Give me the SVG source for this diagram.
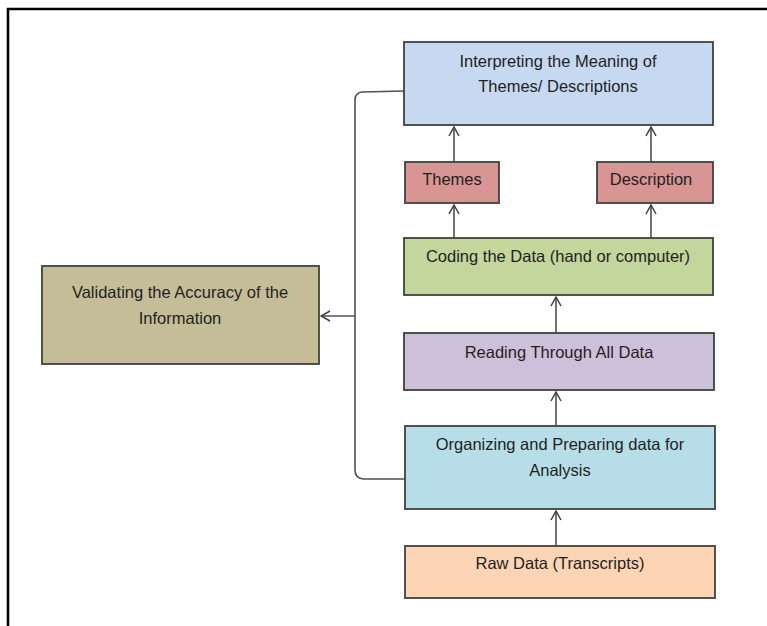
<svg xmlns="http://www.w3.org/2000/svg" width="767" height="626" viewBox="0 0 767 626">
<defs>
<marker id="arr" viewBox="0 0 12 12" refX="11" refY="6" markerWidth="12" markerHeight="12" markerUnits="userSpaceOnUse" orient="auto">
<path d="M2,1 L11,6 L2,11" fill="none" stroke="#404040" stroke-width="1.5"/>
</marker>
</defs>
<style>
.box{stroke:#404040;stroke-width:1.8}
.t{font-family:"Liberation Sans",Arial,sans-serif;font-size:16.5px;fill:#1f1f1f;text-anchor:middle}
.c{fill:none;stroke:#505050;stroke-width:1.6}
</style>
<rect width="767" height="626" fill="#fff"/>
<path d="M8,626 V9 H767" fill="none" stroke="#000" stroke-width="2.5"/>

<g id="connectors">
<path class="c" d="M454,162 V127" marker-end="url(#arr)"/>
<path class="c" d="M651,162 V127" marker-end="url(#arr)"/>
<path class="c" d="M454,238 V205" marker-end="url(#arr)"/>
<path class="c" d="M651,238 V205" marker-end="url(#arr)"/>
<path class="c" d="M556,333 V297" marker-end="url(#arr)"/>
<path class="c" d="M556,426 V392" marker-end="url(#arr)"/>
<path class="c" d="M556,546 V511" marker-end="url(#arr)"/>
<path class="c" d="M404,91 L362,92 Q355,93 355,100 V470 Q355,478 363,479 L405,479"/>
<path class="c" d="M355,316 H321" marker-end="url(#arr)"/>
</g>

<g id="interpreting">
<rect class="box" x="404" y="42" width="309" height="83" fill="#c6d9f1"/>
<text class="t" x="558" y="67">Interpreting the Meaning of</text>
<text class="t" x="558" y="92">Themes/ Descriptions</text>
</g>
<g id="themes">
<rect class="box" x="405" y="162" width="94" height="41" fill="#d99594"/>
<text class="t" x="452" y="185">Themes</text>
</g>
<g id="description">
<rect class="box" x="597" y="162" width="116" height="41" fill="#d99594"/>
<text class="t" x="651" y="185">Description</text>
</g>
<g id="coding">
<rect class="box" x="404" y="238" width="309" height="57" fill="#c3d69b"/>
<text class="t" x="558" y="262">Coding the Data (hand or computer)</text>
</g>
<g id="reading">
<rect class="box" x="404" y="333" width="310" height="57" fill="#ccc0da"/>
<text class="t" x="559" y="358">Reading Through All Data</text>
</g>
<g id="organizing">
<rect class="box" x="405" y="426" width="310" height="83" fill="#b7dde8"/>
<text class="t" x="560" y="450">Organizing and Preparing data for</text>
<text class="t" x="560" y="476">Analysis</text>
</g>
<g id="raw">
<rect class="box" x="405" y="546" width="310" height="52" fill="#fcd5b5"/>
<text class="t" x="560" y="569">Raw Data (Transcripts)</text>
</g>
<g id="validating">
<rect class="box" x="42" y="266" width="277" height="98" fill="#c4bd97"/>
<text class="t" x="180" y="298">Validating the Accuracy of the</text>
<text class="t" x="180" y="324">Information</text>
</g>
</svg>
